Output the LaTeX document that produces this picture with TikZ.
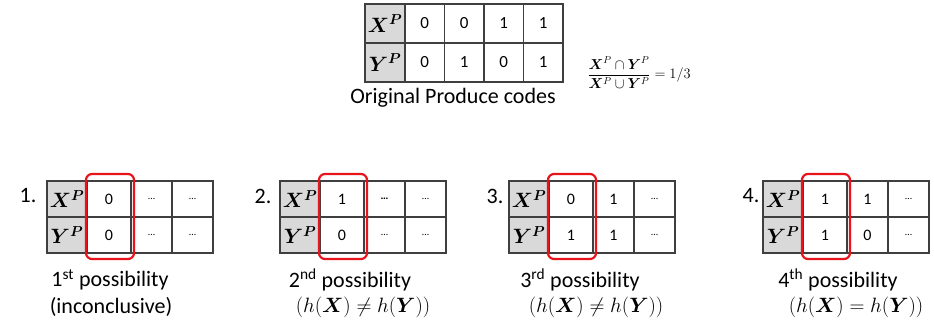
\documentclass[tikz,border=0pt]{standalone}
\usepackage{amsmath}
\usepackage{bm}
\usepackage{fontspec}
\newfontfamily\calib{Carlito}
\definecolor{hdr}{HTML}{D9D9D9}
\definecolor{bord}{HTML}{3F3F3F}
\definecolor{hl}{HTML}{E8141B}
\tikzset{
  base/.style={draw=bord, line width=1.1pt, inner sep=0pt, outer sep=0pt, anchor=north west},
  hcell/.style={base, fill=hdr, minimum width=40pt, minimum height=36pt, font=\fontsize{21}{24}\selectfont},
  dcell/.style={base, fill=white, minimum width=#1, minimum height=36pt, font=\calib\fontsize{16}{19}\selectfont},
  tophcell/.style={base, fill=hdr, minimum width=40pt, minimum height=39pt, font=\fontsize{22}{26}\selectfont},
  topcell/.style={base, fill=white, minimum width=39.5pt, minimum height=39pt, font=\calib\fontsize{17}{20}\selectfont},
  redbox/.style={draw=hl, line width=2.2pt, rounded corners=6pt},
  caption/.style={font=\calib\fontsize{22}{26}\selectfont, inner sep=0pt},
  mcaption/.style={font=\fontsize{20}{24}\selectfont, inner sep=0pt},
  numlabel/.style={font=\calib\fontsize{22}{26}\selectfont, inner sep=0pt},
}
\newcommand{\dt}{{\calib\fontsize{10}{11}\selectfont\char"2026}}
\newcommand{\dtb}{{\calib\bfseries\fontsize{11}{11}\selectfont\char"2026}}
% #1 name, #2 left x, #3 x1, #4 y1, #5 x2, #6 y2, #7 x3, #8 y3
\newcommand{\lowtable}[8]{%
  \node[hcell] (#1xh) at (#2,181) {$\bm{X^P}$};
  \node[hcell] (#1yh) at (#2,217) {$\bm{Y^P}$};
  \node[dcell=44pt] (#1x1) at (#1xh.north east) {#3};
  \node[dcell=44pt] (#1y1) at (#1yh.north east) {#4};
  \node[dcell=41pt] (#1x2) at (#1x1.north east) {#5};
  \node[dcell=41pt] (#1y2) at (#1y1.north east) {#6};
  \node[dcell=41pt] (#1x3) at (#1x2.north east) {#7};
  \node[dcell=41pt] (#1y3) at (#1y2.north east) {#8};
  \draw[redbox] ([xshift=-1pt,yshift=7pt]#1x1.north west) rectangle ([xshift=3pt,yshift=-6pt]#1y1.south east);
}
\begin{document}
\begin{tikzpicture}[x=1pt,y=-1pt]
\useasboundingbox[fill=white] (0,0) rectangle (934,325);
% top table
\node[tophcell] (txh) at (365,4) {$\bm{X^P}$};
\node[tophcell] (tyh) at (365,43) {$\bm{Y^P}$};
\node[topcell] (tx1) at (txh.north east) {0};
\node[topcell] (ty1) at (tyh.north east) {0};
\node[topcell] (tx2) at (tx1.north east) {0};
\node[topcell] (ty2) at (ty1.north east) {1};
\node[topcell] (tx3) at (tx2.north east) {1};
\node[topcell] (ty3) at (ty2.north east) {0};
\node[topcell] (tx4) at (tx3.north east) {1};
\node[topcell] (ty4) at (ty3.north east) {1};
\node[caption] (orig) at (453,98) {Original Produce codes};
\node[inner sep=0pt, font=\fontsize{14}{16}\selectfont] (frac) at (639,73)
  {$\displaystyle\frac{\bm{X}^{P}\cap\bm{Y}^{P}}{\bm{X}^{P}\cup\bm{Y}^{P}} = 1/3$};
% lower tables
\lowtable{a}{47}{0}{0}{\dt}{\dt}{\dt}{\dt}
\lowtable{b}{280}{1}{0}{\dtb}{\dt}{\dt}{\dt}
\lowtable{c}{509}{0}{1}{1}{1}{\dt}{\dt}
\lowtable{d}{763}{1}{1}{1}{0}{\dt}{\dt}
\node[numlabel] (n1) at (28,196) {1.};
\node[numlabel] (n2) at (263,196) {2.};
\node[numlabel] (n3) at (495,196) {3.};
\node[numlabel] (n4) at (751,196) {4.};
\node[caption] (c1a) at (110,280) {1\textsuperscript{st} possibility};
\node[caption] (c1b) at (111,307) {(inconclusive)};
\node[caption] (c2a) at (350,280) {2\textsuperscript{nd} possibility};
\node[mcaption] (c2b) at (363,307) {$(h(\bm{X}) \neq h(\bm{Y}))$};
\node[caption] (c3a) at (580,280) {3\textsuperscript{rd} possibility};
\node[mcaption] (c3b) at (596,307) {$(h(\bm{X}) \neq h(\bm{Y}))$};
\node[caption] (c4a) at (838,280) {4\textsuperscript{th} possibility};
\node[mcaption] (c4b) at (856,307) {$(h(\bm{X}) = h(\bm{Y}))$};
\end{tikzpicture}
\end{document}
